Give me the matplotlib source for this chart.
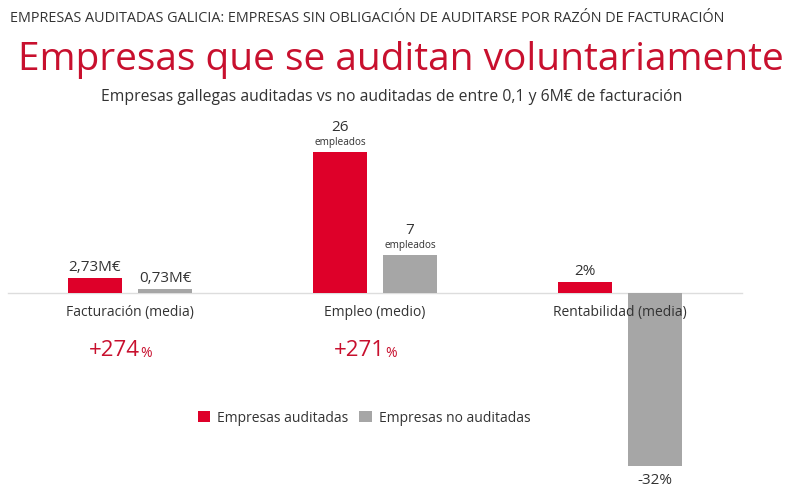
import matplotlib
matplotlib.use('Agg')
import matplotlib.pyplot as plt
import numpy as np

plt.rcParams['font.family'] = ['Open Sans', 'DejaVu Sans']

# data
categories = ['Facturación (media)', 'Empleo (medio)', 'Rentabilidad (media)']
auditadas = [2.73, 26, 2]
no_auditadas = [0.73, 7, -32]
labels_aud = ['2,73M€', '26', '2%']
labels_no = ['0,73M€', '7', '-32%']
units_aud = ['', 'empleados', '']
units_no = ['', 'empleados', '']
diffs = ['+274', '+271', None]

RED = '#DE0029'
GRAY = '#A6A6A6'
TITLE_RED = '#C8102E'
TXT = '#333333'

W, H = 789, 489
fig = plt.figure(figsize=(W / 100, H / 100), dpi=100)

def fx(px):
    return px / W

def fy(py):
    return 1 - py / H

ax = fig.add_axes([0, 0, 1, fy(110)])
ax.set_xlim(-0.531, 2.690)
ax.set_ylim(-35.98, 33.95)
ax.axis('off')

x = np.arange(len(categories))
off = 0.143
bw = 0.22
ax.bar(x - off, auditadas, bw, color=RED, label='Empresas auditadas')
ax.bar(x + off, no_auditadas, bw, color=GRAY, label='Empresas no auditadas')
ax.plot([-0.5, 2.5], [0, 0], color='#DDDDDD', lw=1, zorder=0)

for i in range(len(categories)):
    for xx, v, lab, unit in [(x[i] - off, auditadas[i], labels_aud[i], units_aud[i]),
                             (x[i] + off, no_auditadas[i], labels_no[i], units_no[i])]:
        if v >= 0:
            if unit:
                ax.annotate(unit, (xx, v), xytext=(0, 4), textcoords='offset points',
                            ha='center', va='bottom', fontsize=7.2, color=TXT)
                ax.annotate(lab, (xx, v), xytext=(0, 13), textcoords='offset points',
                            ha='center', va='bottom', fontsize=11, color=TXT)
            else:
                ax.annotate(lab, (xx, v), xytext=(0, 3), textcoords='offset points',
                            ha='center', va='bottom', fontsize=11, color=TXT)
        else:
            ax.annotate(lab, (xx, v), xytext=(0, -4), textcoords='offset points',
                        ha='center', va='top', fontsize=11, color=TXT)
    ax.annotate(categories[i], (x[i], 0), xytext=(0, -8), textcoords='offset points',
                ha='center', va='top', fontsize=10, color=TXT)

# percentage differences
for i, d in enumerate(diffs):
    if d is None:
        continue
    ax.annotate(d, (x[i] + 0.04, 0), xytext=(0, -41), textcoords='offset points',
                ha='right', va='center', fontsize=16, color=TITLE_RED)
    ax.annotate('%', (x[i] + 0.04, 0), xytext=(0, -43), textcoords='offset points',
                ha='left', va='center', fontsize=10, color=TITLE_RED)

fig.text(fx(10), fy(18), 'EMPRESAS AUDITADAS GALICIA: EMPRESAS SIN OBLIGACIÓN DE AUDITARSE POR RAZÓN DE FACTURACIÓN',
         ha='left', va='center', fontsize=10.4, color=TXT)
fig.text(fx(401), fy(60), 'Empresas que se auditan voluntariamente',
         ha='center', va='center', fontsize=28, color=TITLE_RED)
fig.text(fx(392), fy(97), 'Empresas gallegas auditadas vs no auditadas de entre 0,1 y 6M€ de facturación',
         ha='center', va='center', fontsize=11.3, color=TXT)

fig.legend(loc='center', bbox_to_anchor=(fx(364), fy(419)), ncol=2, frameon=False,
           fontsize=10, handlelength=0.9, handleheight=0.9, handletextpad=0.5,
           columnspacing=0.8, labelcolor=TXT)

fig.savefig('out.png', dpi=100)
